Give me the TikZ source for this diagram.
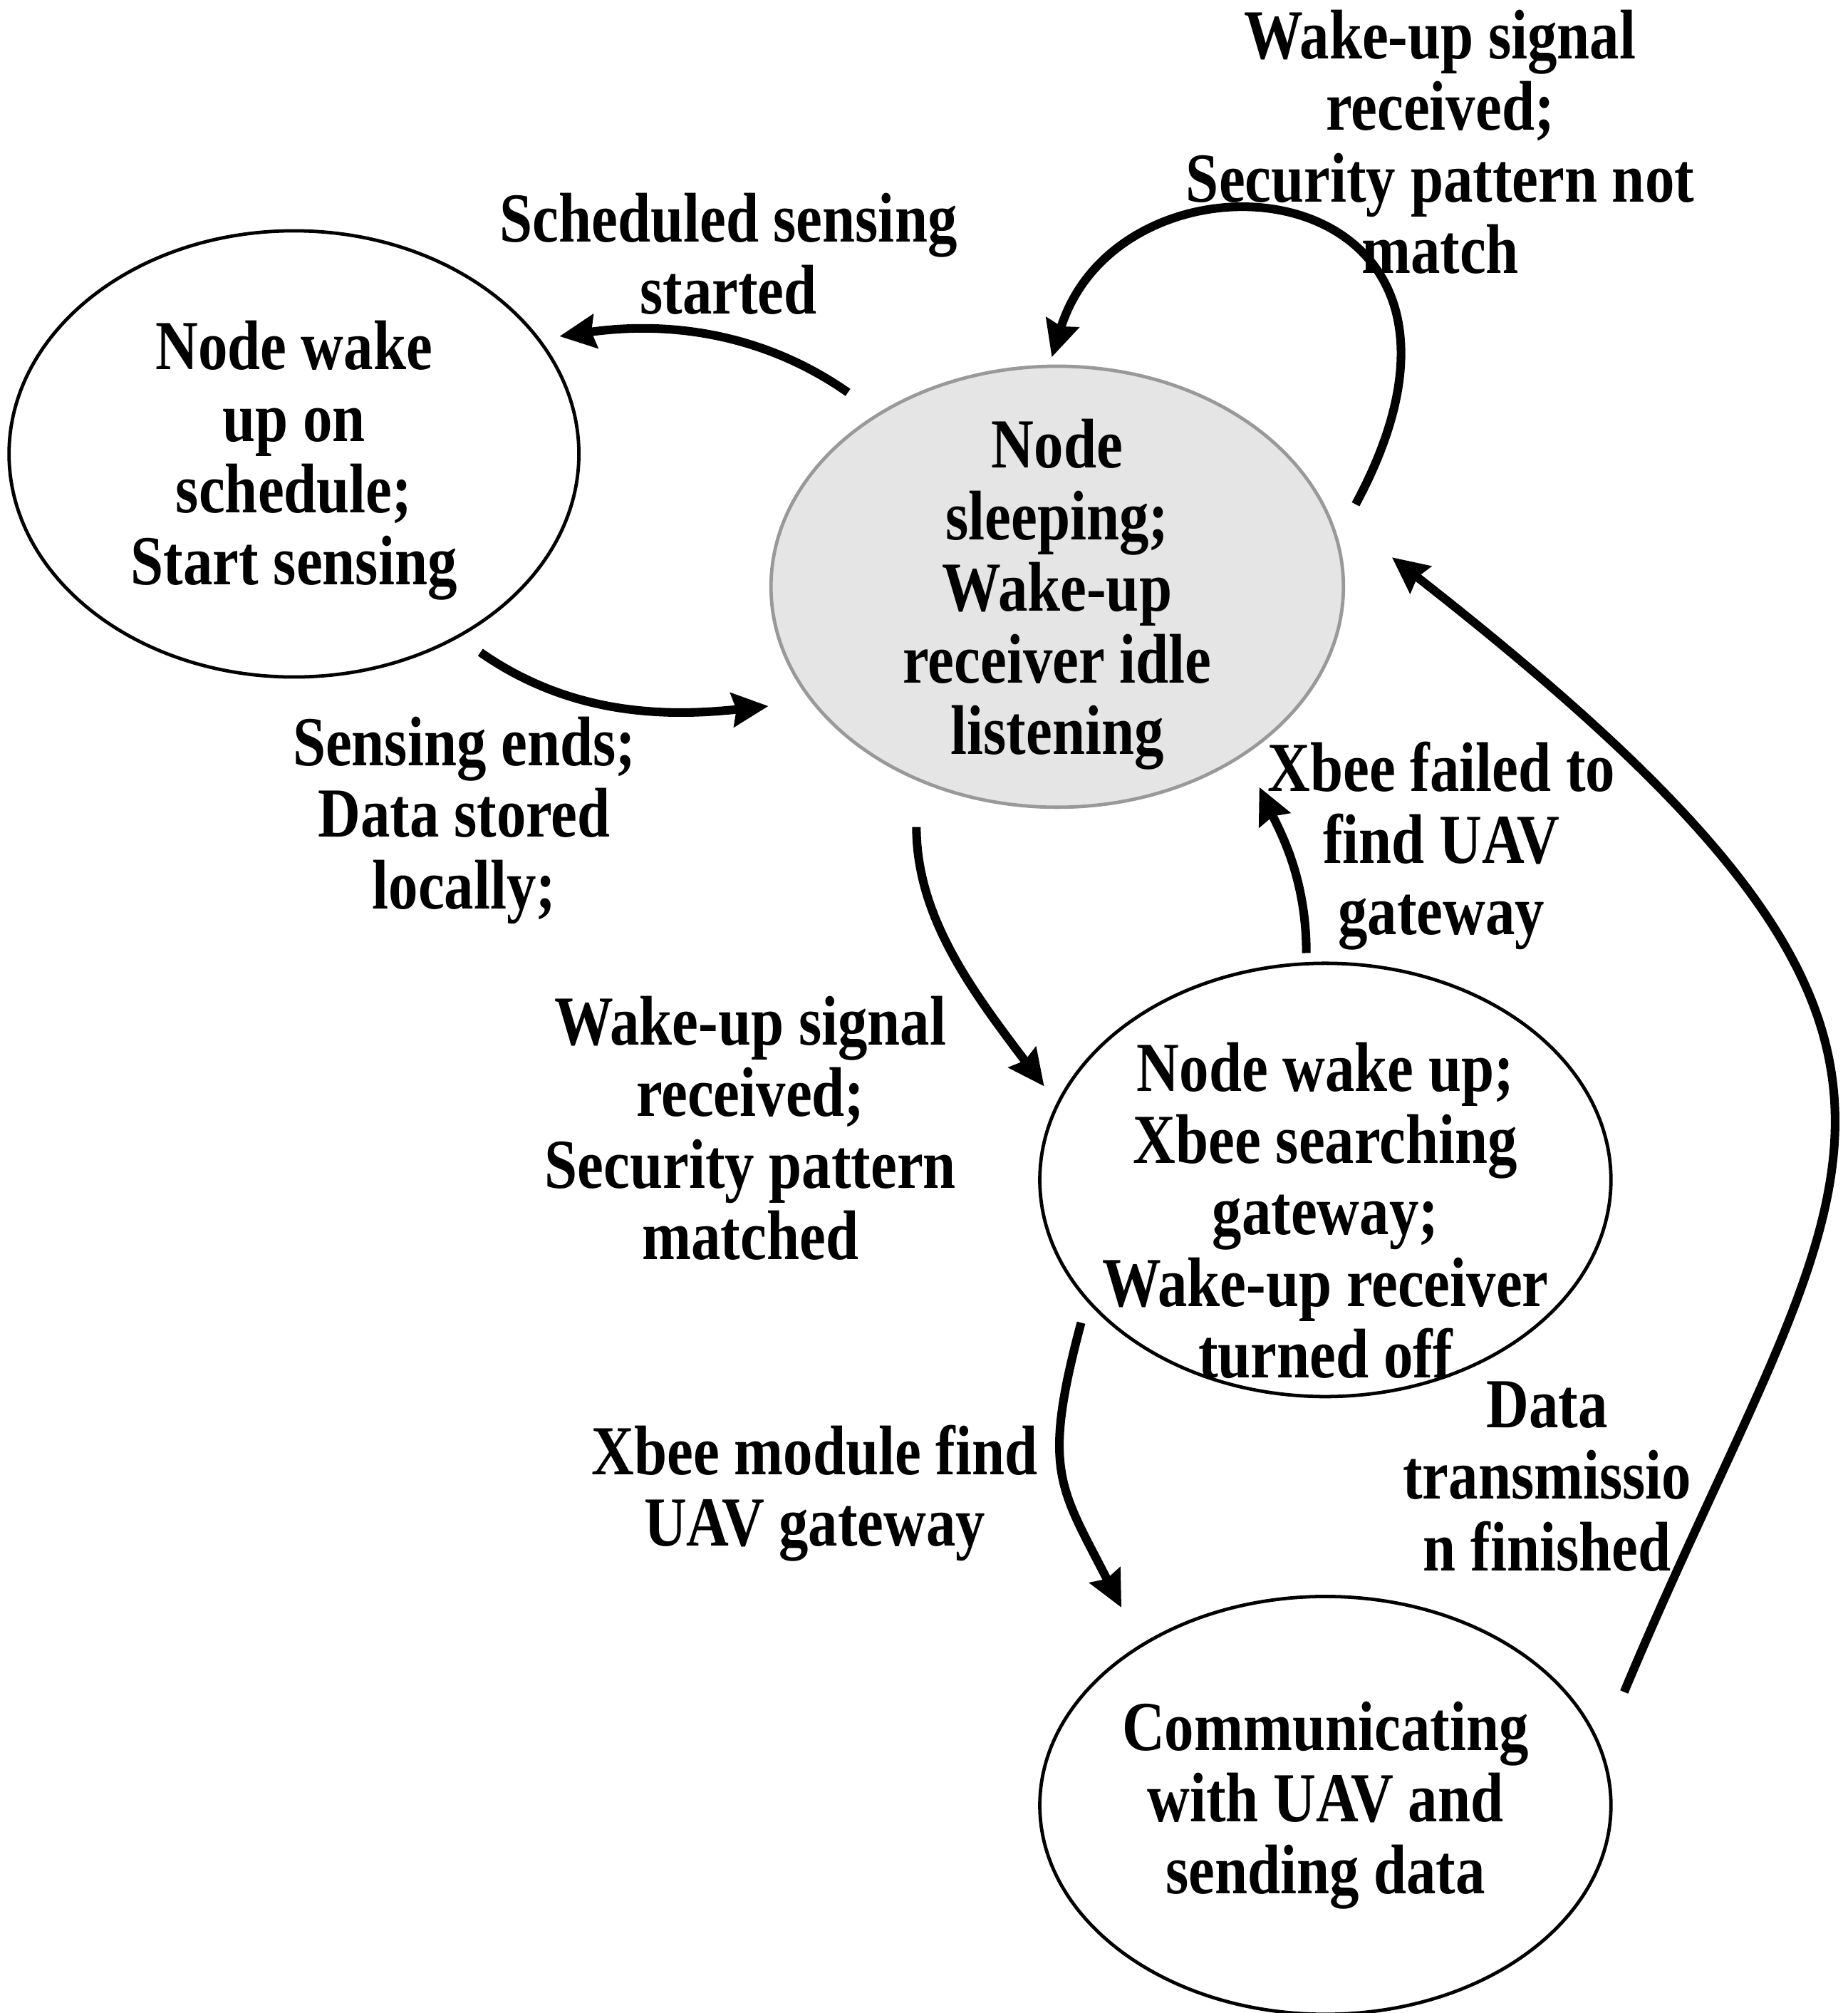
\documentclass[tikz,border=0pt]{standalone}
\usepackage{fontspec}
\setmainfont{Liberation Serif}[FakeStretch=0.84]
\usetikzlibrary{arrows.meta,shapes.geometric}

\begin{document}
\begin{tikzpicture}
			[auto=left, every node/.style={align=center, font=\fontsize{15.5}{15.8}\selectfont\bfseries},
			state/.style={ellipse, draw, line width=0.75pt, inner sep=0pt},
			edge/.style={-{Stealth[length=0.28cm, width=0.26cm, inset=0.03cm]}, line width=1.9pt}]
			\useasboundingbox (0,0) rectangle (14.33,15.61);
			\node[state, minimum width=4.42cm, minimum height=3.46cm] (sched) at (2.28,12.09) {};
			\node[state, draw=gray!80, fill=gray!20, minimum width=4.44cm, minimum height=3.42cm] (sleep) at (8.20,11.06) {};
			\node[state, minimum width=4.43cm, minimum height=3.36cm] (search) at (10.28,6.46) {};
			\node[state, minimum width=4.43cm, minimum height=3.24cm] (comm) at (10.28,1.61) {};
			
			\node (schedtext) at (2.28,12.04) {Node wake\\up on\\schedule;\\Start sensing};
			\node (sleeptext) at (8.20,11.00) {Node\\sleeping;\\Wake-up\\receiver idle\\listening};
			\node (searchtext) at (10.28,6.22) {Node wake up;\\Xbee searching\\gateway;\\Wake-up receiver\\turned off};
			\node (commtext) at (10.28,1.61) {Communicating\\with UAV and\\sending data};
			
			\node (lstarted) at (5.65,13.64) {Scheduled sensing\\started};
			\node (lstored) at (3.60,9.25) {Sensing ends;\\Data stored\\locally;};
			\node (lmatched) at (5.82,6.86) {Wake-up signal\\received;\\Security pattern\\matched};
			\node (lnotmatch) at (11.17,14.51) {Wake-up signal\\received;\\Security pattern not\\match};
			\node (lfailed) at (11.18,9.05) {Xbee failed to\\find UAV\\gateway};
			\node (lfound) at (6.32,4.03) {Xbee module find\\UAV gateway};
			\node (lfinished) at (12.00,4.16) {Data\\transmissio\\n finished};
			
			\draw[edge, shorten <=0.28cm, shorten >=0.15cm] (sleep.136) to[out=145, in=8] (sched.25);
			\draw[edge, shorten <=0.20cm, shorten >=0.33cm] (sched.-48) to[out=-35, in=186] (sleep.205);
			\draw[edge, shorten <=0.36cm, shorten >=0.16cm] (sleep.-126) to[out=-90, in=127] (search.164);
			\draw[edge, shorten <=0.29cm, shorten >=0.06cm] (sleep.10) .. controls +(1.54,2.86) and +(0.57,1.84) .. (sleep.92);
			\draw[edge, shorten <=0.07cm, shorten >=0.27cm] (search.95) to[out=90, in=-65] (sleep.-42);
			\draw[edge, shorten <=0.17cm, shorten >=0.32cm] (search.207) to[out=-105, in=117, looseness=1.3] (comm.139);
			\draw[edge, shorten <=0.46cm, shorten >=0.66cm] (comm.12) .. controls +(1.90,4.55) and +(5.50,-4.30) .. (sleep.17);
			\end{tikzpicture}
\end{document}
